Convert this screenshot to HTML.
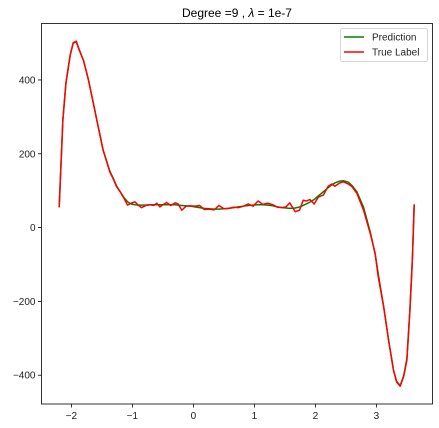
<!DOCTYPE html>
<html><head><meta charset="utf-8"><style>
html,body{margin:0;padding:0;background:#fff;}
svg{display:block;font-family:"Liberation Sans","DejaVu Sans",sans-serif;}
</style></head><body>
<svg id="chart" width="439" height="428"></svg>
<script>
const xs = [-2.2,-2.14,-2.09,-2.02,-1.97,-1.92,-1.87,-1.80,-1.72,-1.64,
 -1.56,-1.48,-1.37,-1.32,-1.26,-1.20,-1.14,-1.08,-1.02,-0.96,
 -0.90,-0.85,-0.78,-0.71,-0.65,-0.60,-0.55,-0.50,-0.44,-0.37,
 -0.30,-0.25,-0.19,-0.12,-0.05,0.02,0.1,0.18,0.26,0.34,
 0.42,0.5,0.58,0.66,0.74,0.82,0.9,0.98,1.06,1.14,
 1.22,1.3,1.38,1.46,1.52,1.58,1.67,1.74,1.80,1.85,
 1.91,1.98,2.05,2.13,2.21,2.27,2.32,2.40,2.46,2.54,
 2.60,2.68,2.79,2.90,2.98,3.03,3.12,3.20,3.28,3.33,
 3.39,3.45,3.50,3.55,3.59,3.62];
const prediction = [55,291,391,467,500,503,481,452,400,337,
 273,210,153,136,113,97,82,70,64,62,
 61,61,61,62,62,62,62,62,62,62,
 62,61,60,59,58,56,54,52,51,50,
 50,51,52,54,56,58,60,61,62,62,
 61,59,56,54,53,52,53,56,60,64,
 69,76,86,97,108,116,121,126,127,123,
 114,97,55,-12,-72,-125,-215,-305,-386,-416,
 -428,-400,-355,-222,-85,63];
const trueLabel = [55,291,391,467,501,505,481,452,400,337,
 273,210,151,134,111,97,80,61,66,70,
 60,54,60,62,60,66,56,62,68,60,
 67,64,47,58,59,58,60,49,50,48,
 60,51,52,55,54,58,64,58,72,63,
 66,62,55,54,56,67,43,47,74,72,
 76,64,83,88,112,118,112,121,124,118,
 111,93,47,-16,-70,-133,-215,-305,-386,-418,
 -430,-402,-359,-224,-88,63];
const xTicks = [-2,-1,0,1,2,3];
const yTicks = [-400,-200,0,200,400];

const NS='http://www.w3.org/2000/svg';
const svg=document.getElementById('chart');
const L=41.5,R=432.5,T=23.5,B=404;
const X0=-2.49,X1=3.92,Y0=-478,Y1=553;
const sx=v=>L+(v-X0)/(X1-X0)*(R-L);
const sy=v=>B-(v-Y0)/(Y1-Y0)*(B-T);
function mk(tag,attrs,parent){const e=document.createElementNS(NS,tag);for(const k in attrs)e.setAttribute(k,attrs[k]);(parent||svg).appendChild(e);return e;}

const title=mk('text',{x:237,y:17,'text-anchor':'middle','font-size':12,fill:'#000'});


title.innerHTML='Degree =9 , <tspan font-style="italic">λ</tspan> = 1e-7';

const xg=mk('g',{});


xTicks.forEach(t=>{const x=sx(t);
 mk('line',{x1:x,x2:x,y1:B,y2:B+3.5,stroke:'#000','stroke-width':0.8},xg);
 const tx=mk('text',{x:x,y:B+15,'text-anchor':'middle','font-size':10,fill:'#222'},xg);
 
 
 tx.textContent=t<0?'\u2212'+(-t):String(t);});
const yg=mk('g',{});


yTicks.forEach(t=>{const y=sy(t);
 mk('line',{x1:L-3.5,x2:L,y1:y,y2:y,stroke:'#000','stroke-width':0.8},yg);
 const tx=mk('text',{x:L-6,y:y+3.5,'text-anchor':'end','font-size':10,fill:'#222'},yg);
 
 
 tx.textContent=t<0?'\u2212'+(-t):String(t);});

function path(vals,color,name){
 const d=xs.map((x,i)=>(i?'L':'M')+sx(x).toFixed(2)+','+sy(vals[i]).toFixed(2)).join('');
 const p=mk('path',{d:d,fill:'none',stroke:color,'stroke-width':1.5,'stroke-linejoin':'round'});
 
 
}
path(prediction,'#008000','prediction-line');
path(trueLabel,'#ff0000','true-label-line');

const frame=mk('rect',{x:L,y:T,width:R-L,height:B-T,fill:'none',stroke:'#000','stroke-width':0.8});



const lg=mk('g',{});


mk('rect',{x:340.5,y:28.5,width:87,height:33,rx:2,fill:'#fff','fill-opacity':0.8,stroke:'#ccc','stroke-width':0.8},lg);
const e1=mk('g',{},lg);


mk('line',{x1:344,x2:364,y1:37,y2:37,stroke:'#008000','stroke-width':1.5},e1);
const t1=mk('text',{x:372,y:40.5,'font-size':10,fill:'#222'},e1);t1.textContent='Prediction';
const e2=mk('g',{},lg);


mk('line',{x1:344,x2:364,y1:52,y2:52,stroke:'#ff0000','stroke-width':1.5},e2);
const t2=mk('text',{x:372,y:55.5,'font-size':10,fill:'#222'},e2);t2.textContent='True Label';
</script>
</body></html>
